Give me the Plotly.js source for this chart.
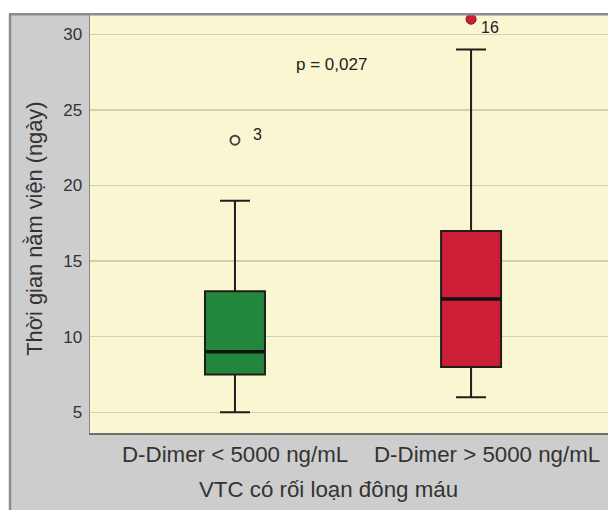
<!DOCTYPE html>
<html>
<head>
<meta charset="utf-8">
<script src="https://cdn.plot.ly/plotly-3.0.1.min.js"></script>
<style>html,body{margin:0;padding:0;background:#fff;}#chart{width:608px;height:510px;}</style>
</head>
<body>
<div id="chart"></div>
<script>
// ---- data ----
var categories = ['D-Dimer < 5000 ng/mL', 'D-Dimer > 5000 ng/mL'];
var lowerWhisker = [5, 6];
var q1Values = [7.5, 8];
var medianValues = [9, 12.5];
var q3Values = [13, 17];
var upperWhisker = [19, 29];
var outlierValues = [23, 31];
var outlierLabels = ['3', '16'];
var pText = 'p = 0,027';
var xTitle = 'VTC có rối loạn đông máu';
var yTitle = 'Thời gian nằm viện (ngày)';
var yTicks = [5, 10, 15, 20, 25, 30];

// ---- styling ----
var fillColors = ['#23863d', '#cd1e37'];
var boxWidth = 0.254;
var font = 'Liberation Sans, Arial, sans-serif';
var labelXShift = [0, 16];

var traces = categories.map(function (c, i) {
  return {
    type: 'box',
    x: [c],
    q1: [q1Values[i]],
    median: [medianValues[i]],
    q3: [q3Values[i]],
    lowerfence: [lowerWhisker[i]],
    upperfence: [upperWhisker[i]],
    width: boxWidth,
    whiskerwidth: 0.5,
    fillcolor: fillColors[i],
    line: {color: '#1e1e1e', width: 2},
    hoverinfo: 'skip',
    showlegend: false
  };
});

// outliers
traces.push({
  type: 'scatter', mode: 'markers',
  x: [categories[0]], y: [outlierValues[0]],
  marker: {symbol: 'circle', size: 9, color: 'rgba(0,0,0,0)', line: {color: '#444', width: 2}},
  showlegend: false, hoverinfo: 'skip', cliponaxis: false
});
traces.push({
  type: 'scatter', mode: 'markers',
  x: [categories[1]], y: [outlierValues[1]],
  marker: {symbol: 'circle', size: 10, color: fillColors[1], line: {color: '#7a1020', width: 1}},
  showlegend: false, hoverinfo: 'skip', cliponaxis: false
});

// thicker median lines
var shapes = medianValues.map(function (m, i) {
  return {type: 'line', xref: 'x', yref: 'y', x0: i - boxWidth / 2, x1: i + boxWidth / 2,
          y0: m, y1: m, line: {color: '#111', width: 3.5}};
});
// white strips and frame border around the gray panel
shapes.push({type: 'rect', xref: 'paper', yref: 'paper', x0: -0.2, x1: 1.1, y0: 1, y1: 1.1,
             fillcolor: '#ffffff', line: {width: 0}, layer: 'below'});
shapes.push({type: 'rect', xref: 'paper', yref: 'paper', x0: -0.2, x1: -0.1544, y0: -0.3, y1: 1.1,
             fillcolor: '#ffffff', line: {width: 0}, layer: 'below'});
shapes.push({type: 'line', xref: 'paper', yref: 'paper', x0: -0.1544, x1: -0.1544, y0: -0.3, y1: 1.002,
             line: {color: '#8c8c8c', width: 2.5}});
shapes.push({type: 'line', xref: 'paper', yref: 'paper', x0: -0.1564, x1: 1.1, y0: 1.002, y1: 1.002,
             line: {color: '#8c8c8c', width: 2.5}});

var outlierShifts = [[16, 6], [8, -8]];
var annotations = outlierLabels.map(function (t, i) {
  return {xref: 'x', yref: 'y', x: i, y: outlierValues[i], text: t, showarrow: false,
          xanchor: 'left', yanchor: 'middle', xshift: outlierShifts[i][0], yshift: outlierShifts[i][1],
          font: {family: font, size: 16, color: '#222'}};
});
annotations.push({
  xref: 'x', yref: 'y', x: 0.41, y: 28, text: pText, showarrow: false,
  font: {family: font, size: 17, color: '#222'}
});
// category labels (slightly offset like the reference)
categories.forEach(function (c, i) {
  annotations.push({xref: 'x', yref: 'paper', x: i, y: 0, text: c, showarrow: false,
    xanchor: 'center', yanchor: 'middle', xshift: labelXShift[i], yshift: -21,
    font: {family: font, size: 22.3, color: '#333'}});
});
annotations.push({xref: 'paper', yref: 'paper', x: 0.461, y: 0, text: xTitle, showarrow: false,
  xanchor: 'center', yanchor: 'middle', yshift: -56,
  font: {family: font, size: 22.3, color: '#333'}});
annotations.push({xref: 'paper', yref: 'paper', x: -0.106, y: 0.489, text: yTitle, showarrow: false,
  textangle: -90, xanchor: 'center', yanchor: 'middle',
  font: {family: font, size: 21.8, color: '#333'}});

var layout = {
  width: 608, height: 510,
  margin: {l: 90, r: 0, t: 15, b: 77},
  paper_bgcolor: '#cdcdcd',
  plot_bgcolor: '#faf6d1',
  font: {family: font, color: '#333'},
  showlegend: false,
  xaxis: {
    type: 'category',
    categoryorder: 'array', categoryarray: categories,
    range: [-0.614, 1.58],
    showgrid: false, zeroline: false,
    showline: true, linecolor: '#6e6e6e', linewidth: 1.5,
    ticks: '', showticklabels: false,
    fixedrange: true
  },
  yaxis: {
    range: [3.63, 31.28],
    tickvals: yTicks,
    showgrid: true, gridcolor: '#d3cfb4', gridwidth: 1.5,
    zeroline: false,
    showline: true, linecolor: '#8a8a8a', linewidth: 1.5,
    ticks: '', tickfont: {size: 17, color: '#333'},
    ticklabelstandoff: 3,
    fixedrange: true
  },
  shapes: shapes,
  annotations: annotations
};

Plotly.newPlot('chart', traces, layout, {displayModeBar: false, staticPlot: true});
</script>
</body>
</html>
